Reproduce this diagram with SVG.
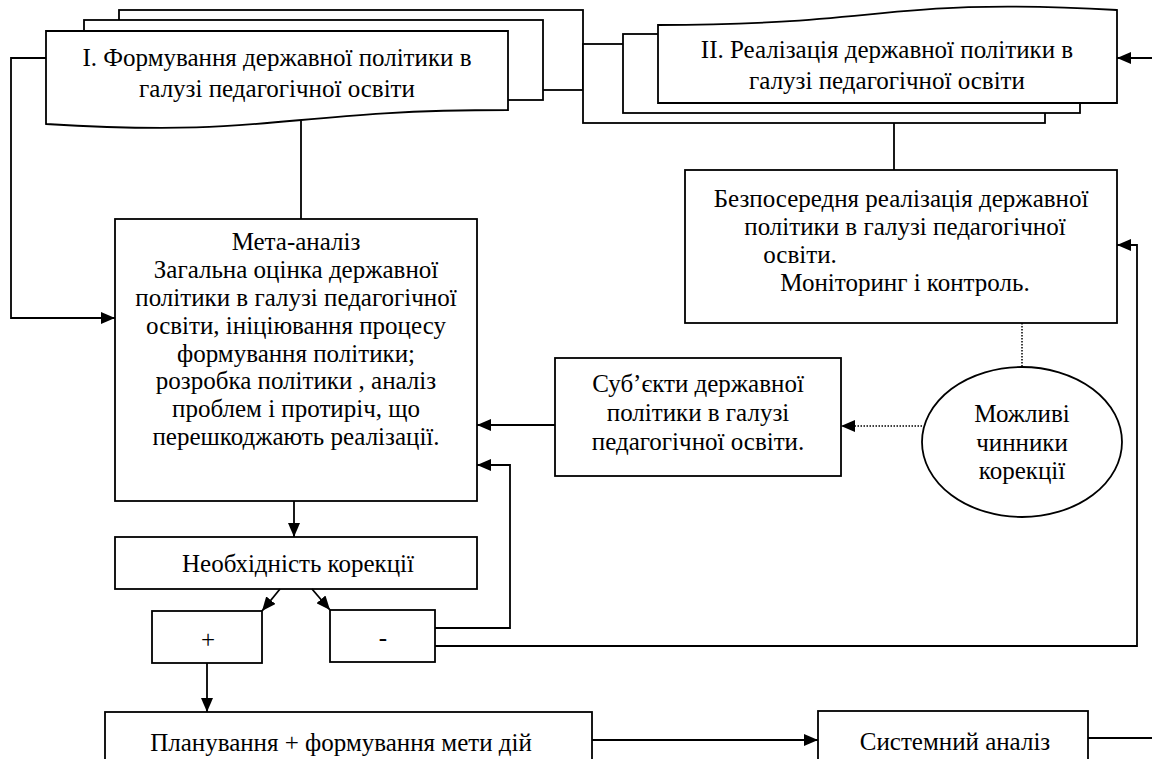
<svg xmlns="http://www.w3.org/2000/svg" width="1152" height="759" viewBox="0 0 1152 759">
<defs>
<style>
.s{fill:#fff;stroke:#000;stroke-width:1.8}
.c{fill:none;stroke:#000;stroke-width:1.8}
.d{fill:none;stroke:#000;stroke-width:1.5;stroke-dasharray:1.5 1.5}
</style>
<marker id="arr" viewBox="0 0 14 12" refX="14" refY="6" markerWidth="14" markerHeight="12" orient="auto" markerUnits="userSpaceOnUse"><path d="M0,0 L14,6 L0,12 Z" fill="#000"/></marker>
</defs>
<rect width="1152" height="759" fill="#fff"/>
<g id="doc1">
<rect class="s" x="119" y="10" width="464" height="80"/>
<rect class="s" x="84" y="20" width="459" height="80"/>
<path class="s" d="M46,31 L508,31 L508,110 C277,110 277,138 46,124 Z"/>
<text text-anchor="middle" style="font-family:'Liberation Serif';font-size:25px" x="277" y="66">I. Формування державної політики в</text>
<text text-anchor="middle" style="font-family:'Liberation Serif';font-size:25px" x="277" y="97">галузі педагогічної освіти</text>
</g>
<g id="doc2">
<rect class="s" x="583" y="44" width="462" height="79"/>
<rect class="s" x="623" y="34" width="457" height="79"/>
<path class="s" d="M658,103 L1117,103 L1117,10 C887,-3 887,25 658,25 Z"/>
<text text-anchor="middle" style="font-family:'Liberation Serif';font-size:25px" x="887" y="58">II. Реалізація державної політики в</text>
<text text-anchor="middle" style="font-family:'Liberation Serif';font-size:25px" x="887" y="89">галузі педагогічної освіти</text>
</g>
<g id="direct">
<rect class="s" x="685" y="170" width="432" height="153"/>
<text text-anchor="middle" style="font-family:'Liberation Serif';font-size:25px" x="901" y="207">Безпосередня реалізація державної</text>
<text text-anchor="middle" style="font-family:'Liberation Serif';font-size:25px" x="905" y="235">політики в галузі педагогічної</text>
<text text-anchor="middle" style="font-family:'Liberation Serif';font-size:25px" x="800" y="263">освіти.</text>
<text text-anchor="middle" style="font-family:'Liberation Serif';font-size:25px" x="905" y="291">Моніторинг і контроль.</text>
</g>
<g id="meta">
<rect class="s" x="115" y="219" width="362" height="282"/>
<text text-anchor="middle" style="font-family:'Liberation Serif';font-size:25px" x="296" y="250">Мета-аналіз</text>
<text text-anchor="middle" style="font-family:'Liberation Serif';font-size:25px" x="296" y="278">Загальна оцінка державної</text>
<text text-anchor="middle" style="font-family:'Liberation Serif';font-size:25px" x="296" y="306">політики в галузі педагогічної</text>
<text text-anchor="middle" style="font-family:'Liberation Serif';font-size:25px" x="296" y="334">освіти, ініціювання процесу</text>
<text text-anchor="middle" style="font-family:'Liberation Serif';font-size:25px" x="296" y="362">формування політики;</text>
<text text-anchor="middle" style="font-family:'Liberation Serif';font-size:25px" x="296" y="389">розробка політики , аналіз</text>
<text text-anchor="middle" style="font-family:'Liberation Serif';font-size:25px" x="296" y="417">проблем і протиріч, що</text>
<text text-anchor="middle" style="font-family:'Liberation Serif';font-size:25px" x="296" y="445">перешкоджають реалізації.</text>
</g>
<g id="subjects">
<rect class="s" x="555" y="358" width="286" height="118"/>
<text text-anchor="middle" style="font-family:'Liberation Serif';font-size:25px" x="698" y="392">Суб’єкти державної</text>
<text text-anchor="middle" style="font-family:'Liberation Serif';font-size:25px" x="698" y="421">політики в галузі</text>
<text text-anchor="middle" style="font-family:'Liberation Serif';font-size:25px" x="698" y="450">педагогічної освіти.</text>
</g>
<g id="factors">
<ellipse class="s" cx="1022" cy="442" rx="100" ry="75"/>
<text text-anchor="middle" style="font-family:'Liberation Serif';font-size:25px" x="1022" y="422">Можливі</text>
<text text-anchor="middle" style="font-family:'Liberation Serif';font-size:25px" x="1022" y="451">чинники</text>
<text text-anchor="middle" style="font-family:'Liberation Serif';font-size:25px" x="1022" y="479">корекції</text>
</g>
<g id="need">
<rect class="s" x="115" y="537" width="362" height="52"/>
<text text-anchor="middle" style="font-family:'Liberation Serif';font-size:25px" x="298" y="572">Необхідність корекції</text>
</g>
<g id="plus">
<rect class="s" x="152" y="611" width="110" height="52"/>
<text text-anchor="middle" style="font-family:'Liberation Serif';font-size:25px" x="208" y="648">+</text>
</g>
<g id="minus">
<rect class="s" x="330" y="610" width="105" height="52"/>
<text text-anchor="middle" style="font-family:'Liberation Serif';font-size:25px" x="383" y="646">-</text>
</g>
<g id="plan">
<rect class="s" x="105" y="712" width="487" height="60"/>
<text text-anchor="middle" style="font-family:'Liberation Serif';font-size:25px" x="341" y="751">Планування + формування мети дій</text>
</g>
<g id="sysan">
<rect class="s" x="818" y="711" width="270" height="60"/>
<text text-anchor="middle" style="font-family:'Liberation Serif';font-size:25px" x="955" y="750">Системний аналіз</text>
</g>
<g id="connectors">
<path class="c" d="M301,121 L301,219"/>
<path class="c" d="M894,123 L894,170"/>
<path class="c" d="M46,58 L11,58 L11,318 L115,318" marker-end="url(#arr)"/>
<path class="c" d="M294,501 L294,537" marker-end="url(#arr)"/>
<path class="c" d="M280,589 L262,611" marker-end="url(#arr)"/>
<path class="c" d="M312,589 L330,610" marker-end="url(#arr)"/>
<path class="c" d="M207,663 L207,712" marker-end="url(#arr)"/>
<path class="c" d="M435,628 L510,628 L510,465 L477,465" marker-end="url(#arr)"/>
<path class="c" d="M435,646 L1137,646 L1137,245 L1117,245" marker-end="url(#arr)"/>
<path class="c" d="M555,425 L477,425" marker-end="url(#arr)"/>
<path class="d" d="M922,426 L841,426" marker-end="url(#arr)"/>
<path class="d" d="M1022,323 L1022,367"/>
<path class="c" d="M1152,58 L1117,58" marker-end="url(#arr)"/>
<path class="c" d="M592,740 L818,740" marker-end="url(#arr)"/>
<path class="c" d="M1088,738 L1152,738"/>
</g>
</svg>
